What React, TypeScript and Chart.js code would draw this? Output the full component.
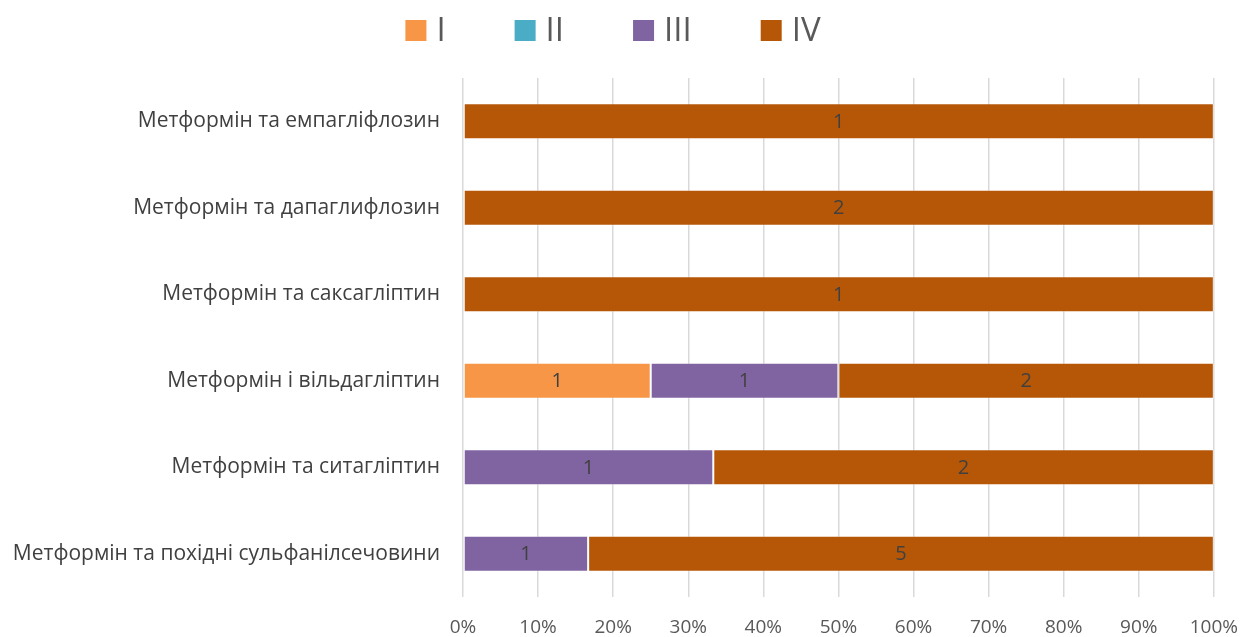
import { useEffect, useRef } from "react";
import { Chart, registerables } from "chart.js";

Chart.register(...registerables);

const categories = [
  "Метформін та емпагліфлозин",
  "Метформін та дапаглифлозин",
  "Метформін та саксагліптин",
  "Метформін і вільдагліптин",
  "Метформін та ситагліптин",
  "Метформін та похідні сульфанілсечовини",
];
const seriesNames = ["I", "II", "III", "IV"];
const countsI = [0, 0, 0, 1, 0, 0];
const countsII = [0, 0, 0, 0, 0, 0];
const countsIII = [0, 0, 0, 1, 1, 1];
const countsIV = [1, 2, 1, 2, 2, 5];
const seriesColors = ["#F79646", "#4BACC6", "#8064A2", "#B65708"];
const tickSuffix = "%";

const FONT = "'Open Sans', 'Noto Sans', 'DejaVu Sans', sans-serif";

export default function App() {
  const ref = useRef<HTMLCanvasElement | null>(null);

  useEffect(() => {
    const canvas = ref.current;
    if (!canvas) return;
    const allCounts = [countsI, countsII, countsIII, countsIV];
    const totals = categories.map((_, i) =>
      allCounts.reduce((s, arr) => s + arr[i], 0)
    );
    const datasets = allCounts.map((arr, k) => ({
      label: seriesNames[k],
      data: arr.map((v, i) => (totals[i] ? (v / totals[i]) * 100 : 0)),
      counts: arr,
      backgroundColor: seriesColors[k],
      borderColor: "rgba(255,255,255,0.35)",
      borderWidth: 1,
      borderSkipped: false,
      categoryPercentage: 1,
      barPercentage: 0.417,
    }));

    const dataLabels = {
      id: "dataLabels",
      afterDatasetsDraw(chart: any) {
        const ctx = chart.ctx;
        ctx.save();
        ctx.font = `20px ${FONT}`;
        ctx.fillStyle = "#404040";
        ctx.textAlign = "center";
        ctx.textBaseline = "middle";
        chart.data.datasets.forEach((ds: any, di: number) => {
          const meta = chart.getDatasetMeta(di);
          if (meta.hidden) return;
          meta.data.forEach((el: any, i: number) => {
            const c = ds.counts[i];
            if (!c) return;
            const p = el.getProps(["x", "y", "base"], true);
            ctx.fillText(String(c), (p.x + p.base) / 2, p.y + 1);
          });
        });
        ctx.restore();
      },
    };

    const customLegend = {
      id: "customLegend",
      afterDraw(chart: any) {
        const ctx = chart.ctx;
        ctx.save();
        ctx.font = `33px ${FONT}`;
        ctx.textBaseline = "middle";
        ctx.textAlign = "left";
        const box = 21;
        const gapText = 10;
        const gapItem = 69;
        const widths = seriesNames.map((n) => ctx.measureText(n).width);
        const total =
          widths.reduce((s, w) => s + box + gapText + w, 0) +
          gapItem * (seriesNames.length - 1);
        let x = 613 - total / 2;
        const cy = 30.5;
        seriesNames.forEach((n, k) => {
          ctx.fillStyle = seriesColors[k];
          ctx.fillRect(x, cy - box / 2, box, box);
          ctx.fillStyle = "#595959";
          ctx.fillText(n, x + box + gapText, cy + 1);
          x += box + gapText + widths[k] + gapItem;
        });
        ctx.restore();
      },
    };

    const chart = new Chart(canvas, {
      type: "bar",
      data: { labels: categories, datasets: datasets as any },
      options: {
        indexAxis: "y",
        responsive: false,
        animation: false,
        layout: { padding: { top: 78, right: 43, left: 0, bottom: 0 } },
        plugins: {
          legend: { display: false },
          tooltip: { enabled: false },
        },
        scales: {
          x: {
            stacked: true,
            min: 0,
            max: 100,
            ticks: {
              stepSize: 10,
              callback: (v: any) => `${v}${tickSuffix}`,
              color: "#595959",
              font: { family: FONT, size: 19 },
              padding: 19,
              maxRotation: 0,
            },
            grid: { color: "#d9d9d9", lineWidth: 1.5, drawTicks: false },
            border: { display: false },
            afterFit: (s: any) => {
              s.height = 40;
            },
          },
          y: {
            stacked: true,
            ticks: {
              color: "#404040",
              font: { family: FONT, size: 21 },
              padding: 23,
            },
            grid: { display: false, drawTicks: false },
            border: { display: false },
            afterFit: (s: any) => {
              s.width = 463;
            },
          },
        },
      },
      plugins: [dataLabels, customLegend],
    });
    return () => chart.destroy();
  }, []);

  return (
    <div style={{ position: "absolute", left: 0, top: 0, width: 1257, height: 637, background: "#fff" }}>
      <canvas ref={ref} width={1257} height={637} style={{ display: "block" }} />
    </div>
  );
}
